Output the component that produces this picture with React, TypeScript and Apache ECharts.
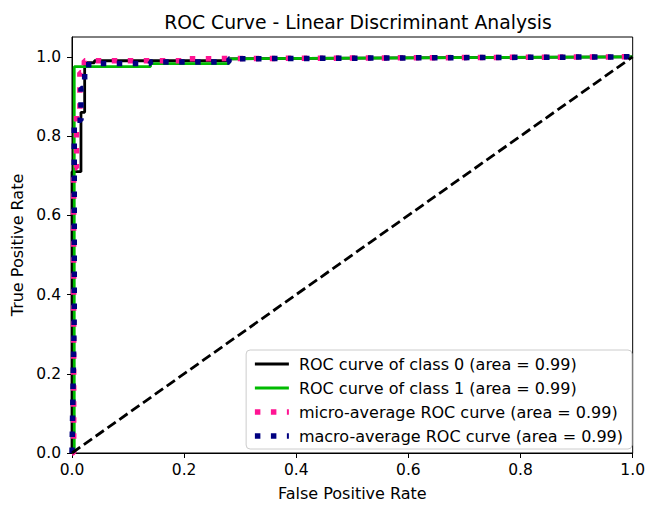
import React, { useEffect, useRef } from "react";
import * as echarts from "echarts";

const fpr0 = [0, 0, 0.016, 0.016, 0.0226, 0.0226, 0.04, 0.04, 0.28, 0.28, 1];
const tpr0 = [0, 0.71, 0.71, 0.86, 0.86, 0.985, 0.985, 0.99, 0.99, 0.995, 1];

const fpr1 = [0, 0.004, 0.004, 0.14, 0.14, 0.28, 0.28, 1];
const tpr1 = [0, 0, 0.975, 0.975, 0.983, 0.983, 0.995, 1];

const fprMicro = [0, 0.003, 0.003, 0.008, 0.008, 0.014, 0.014, 0.022, 0.022, 0.2, 0.2, 1];
const tprMicro = [0, 0, 0.72, 0.72, 0.86, 0.86, 0.96, 0.96, 0.99, 0.99, 0.995, 1];

const fprMacro = [0, 0.004, 0.004, 0.016, 0.016, 0.0226, 0.0226, 0.04, 0.04, 0.14, 0.14, 0.28, 0.28, 1];
const tprMacro = [0, 0.35, 0.84, 0.84, 0.92, 0.92, 0.98, 0.98, 0.983, 0.983, 0.987, 0.987, 0.995, 1];

const diagX = [0, 1];
const diagY = [0, 1];

const seriesNames = [
  "ROC curve of class 0 (area = 0.99)",
  "ROC curve of class 1 (area = 0.99)",
  "micro-average ROC curve (area = 0.99)",
  "macro-average ROC curve (area = 0.99)",
];

const xTicks = [0, 0.2, 0.4, 0.6, 0.8, 1.0];

const zip = (xs: number[], ys: number[]) => xs.map((x, i) => [x, ys[i]]);

const FONT = "DejaVu Sans";
const DOT = [5.5, 10.5];

export default function App() {
  const ref = useRef<HTMLDivElement>(null);
  useEffect(() => {
    if (!ref.current) return;
    const chart = echarts.init(ref.current, undefined, { renderer: "svg" });
    const hiddenSymbol = { opacity: 0, color: "rgba(0,0,0,0)", borderWidth: 0 };
    chart.setOption({
      animation: false,
      backgroundColor: "#ffffff",
      title: {
        text: "ROC Curve - Linear Discriminant Analysis",
        left: 353,
        textAlign: "center",
        top: 8,
        textStyle: { fontFamily: FONT, fontSize: 18.8, fontWeight: "normal", color: "#000" },
      },
      grid: {
        left: 72,
        right: 14,
        top: 37,
        bottom: 48,
        show: true,
        borderColor: "#000",
        borderWidth: 1,
        backgroundColor: "transparent",
      },
      legend: {
        orient: "vertical",
        right: 16,
        bottom: 57,
        itemWidth: 34,
        itemHeight: 16,
        itemGap: 8,
        padding: [6, 9, 5, 6],
        backgroundColor: "rgba(255,255,255,0.8)",
        borderColor: "#cccccc",
        borderWidth: 1,
        borderRadius: 4,
        itemStyle: hiddenSymbol,
        textStyle: { fontFamily: FONT, fontSize: 16, lineHeight: 16, color: "#000", padding: [0, 0, 0, 5] },
        data: [
          { name: seriesNames[0], itemStyle: hiddenSymbol, lineStyle: { width: 2.8 } },
          { name: seriesNames[1], itemStyle: hiddenSymbol, lineStyle: { width: 2.8 } },
          { name: seriesNames[2], itemStyle: hiddenSymbol, lineStyle: { width: 5.5, type: DOT } },
          { name: seriesNames[3], itemStyle: hiddenSymbol, lineStyle: { width: 5.5, type: DOT } },
        ],
      },
      xAxis: {
        type: "value",
        min: 0,
        max: 1,
        interval: 0.2,
        name: "False Positive Rate",
        nameLocation: "middle",
        nameGap: 32,
        nameTextStyle: { fontFamily: FONT, fontSize: 16, color: "#000" },
        axisLine: { show: true, lineStyle: { color: "#000", width: 1 } },
        axisTick: { show: true, length: 5, inside: false, lineStyle: { color: "#000" } },
        axisLabel: {
          fontFamily: FONT,
          fontSize: 15.5,
          color: "#000",
          margin: 9,
          formatter: (v: number) => (xTicks.some((t) => Math.abs(t - v) < 1e-9) ? v.toFixed(1) : ""),
        },
        splitLine: { show: false },
      },
      yAxis: {
        type: "value",
        min: 0,
        max: 1.05,
        interval: 0.2,
        name: "True Positive Rate",
        nameLocation: "middle",
        nameGap: 43,
        nameTextStyle: { fontFamily: FONT, fontSize: 16, color: "#000" },
        axisLine: { show: true, lineStyle: { color: "#000", width: 1 } },
        axisTick: { show: true, length: 5, inside: false, lineStyle: { color: "#000" } },
        axisLabel: {
          fontFamily: FONT,
          fontSize: 15.5,
          color: "#000",
          margin: 11,
          showMaxLabel: false,
          formatter: (v: number) => (v > 1.001 ? "" : v.toFixed(1)),
        },
        splitLine: { show: false },
      },
      series: [
        {
          name: seriesNames[0],
          type: "line",
          data: zip(fpr0, tpr0),
          symbol: "none",
          lineStyle: { color: "#000000", width: 2.8 },
          itemStyle: { color: "#000000" },
        },
        {
          name: seriesNames[1],
          type: "line",
          data: zip(fpr1, tpr1),
          symbol: "none",
          lineStyle: { color: "#00bb00", width: 2.8 },
          itemStyle: { color: "#00bb00" },
        },
        {
          name: seriesNames[2],
          type: "line",
          data: zip(fprMicro, tprMicro),
          symbol: "none",
          lineStyle: { color: "#ff1493", width: 5.5, type: DOT },
          itemStyle: { color: "#ff1493" },
        },
        {
          name: seriesNames[3],
          type: "line",
          data: zip(fprMacro, tprMacro),
          symbol: "none",
          lineStyle: { color: "#000080", width: 5.5, type: DOT },
          itemStyle: { color: "#000080" },
        },
        {
          name: "diagonal",
          type: "line",
          data: zip(diagX, diagY),
          symbol: "none",
          lineStyle: { color: "#000000", width: 2.8, type: [10, 4.5] },
          itemStyle: { color: "#000000" },
        },
      ],
    });
    return () => chart.dispose();
  }, []);
  return (
    <div
      ref={ref}
      style={{ position: "absolute", left: 0, top: 0, width: 648, height: 506 }}
    />
  );
}
